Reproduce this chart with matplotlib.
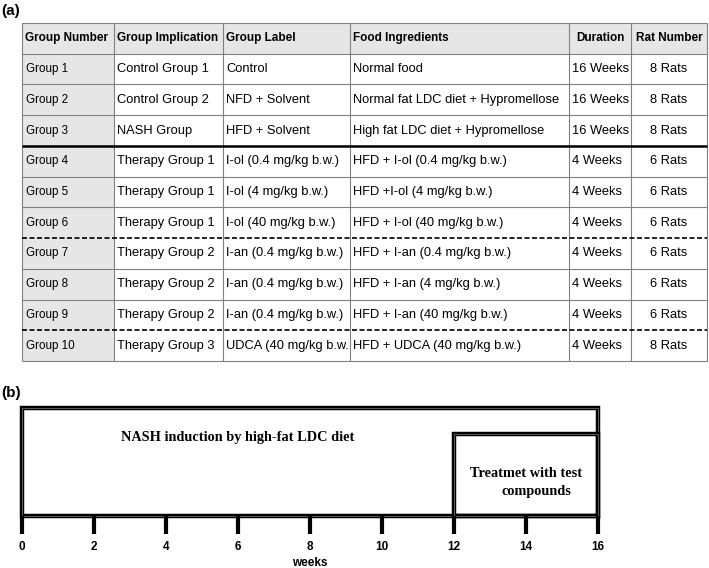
import matplotlib.pyplot as plt
from matplotlib.patches import Rectangle
import numpy as np

plt.rcParams['font.family'] = ['Liberation Sans', 'DejaVu Sans']

# ---- table data (panel a) ----
columns = ["Group Number", "Group Implication", "Group Label",
           "Food Ingredients", "Duration", "Rat Number"]
group_number = ["Group 1", "Group 2", "Group 3", "Group 4", "Group 5",
                "Group 6", "Group 7", "Group 8", "Group 9", "Group 10"]
implication = ["Control Group 1", "Control Group 2", "NASH Group",
               "Therapy Group 1", "Therapy Group 1", "Therapy Group 1",
               "Therapy Group 2", "Therapy Group 2", "Therapy Group 2",
               "Therapy Group 3"]
group_label = ["Control", "NFD + Solvent", "HFD + Solvent",
               "I-ol (0.4 mg/kg b.w.)", "I-ol (4 mg/kg b.w.)",
               "I-ol (40 mg/kg b.w.)", "I-an (0.4 mg/kg b.w.)",
               "I-an (0.4 mg/kg b.w.)", "I-an (0.4 mg/kg b.w.)",
               "UDCA (40 mg/kg b.w."]
food = ["Normal food", "Normal fat LDC diet + Hypromellose",
        "High fat LDC diet + Hypromellose", "HFD + I-ol (0.4 mg/kg b.w.)",
        "HFD +I-ol (4 mg/kg b.w.)", "HFD + I-ol (40 mg/kg b.w.)",
        "HFD + I-an (0.4 mg/kg b.w.)", "HFD + I-an (4 mg/kg b.w.)",
        "HFD + I-an (40 mg/kg b.w.)", "HFD + UDCA (40 mg/kg b.w.)"]
duration = ["16 Weeks", "16 Weeks", "16 Weeks", "4 Weeks", "4 Weeks",
            "4 Weeks", "4 Weeks", "4 Weeks", "4 Weeks", "4 Weeks"]
rats = ["8 Rats", "8 Rats", "8 Rats", "6 Rats", "6 Rats", "6 Rats",
        "6 Rats", "6 Rats", "6 Rats", "8 Rats"]
col_widths = [92, 109, 127, 219, 62, 76]
thick_after = [3]
dashed_after = [6, 9]

# ---- timeline data (panel b) ----
phase_text = ["NASH induction by high-fat LDC diet", "Treatmet with test"]
phase_start = [0, 12]
phase_end = [16, 16]
phase_top = [1.0, 0.76]
week_ticks = [0, 2, 4, 6, 8, 10, 12, 14, 16]

W, H = 709, 568
fig = plt.figure(figsize=(W / 100, H / 100), dpi=100)


def frac(x0, y0, x1, y1):
    return [x0 / W, 1 - y1 / H, (x1 - x0) / W, (y1 - y0) / H]


# ---------------- panel (a): table ----------------
ax = fig.add_axes(frac(22, 23, 707, 361))
edges = np.concatenate([[0], np.cumsum(col_widths)])
nrows = len(group_number) + 1
ax.set_xlim(0, edges[-1])
ax.set_ylim(nrows, 0)
ax.axis('off')

grey = '#e6e6e6'
ax.add_patch(Rectangle((0, 0), edges[-1], 1, fc=grey, ec='none'))
ax.add_patch(Rectangle((0, 1), edges[1], nrows - 1, fc=grey, ec='none'))

lc = '#808080'
for e in edges:
    ax.plot([e, e], [0, nrows], color=lc, lw=0.8, solid_capstyle='butt',
            clip_on=False)
for r in range(nrows + 1):
    if r - 1 in thick_after + dashed_after:
        continue
    ax.plot([0, edges[-1]], [r, r], color=lc, lw=0.8, solid_capstyle='butt',
            clip_on=False)
for r in thick_after:
    ax.plot([0, edges[-1]], [r + 1, r + 1], color='black', lw=1.8,
            solid_capstyle='butt', clip_on=False)
for r in dashed_after:
    ax.plot([0, edges[-1]], [r + 1, r + 1], color='black', lw=1.2,
            linestyle=(0, (3, 1.5)), clip_on=False)

# header
for c, name in enumerate(columns):
    if c >= 4:
        ax.text((edges[c] + edges[c + 1]) / 2, 0.5, name, ha='center',
                va='center', fontsize=8.5, fontweight='bold')
    else:
        ax.text(edges[c] + 3, 0.5, name, ha='left', va='center',
                fontsize=8.5, fontweight='bold')

# body
table_cols = [group_number, implication, group_label, food, duration, rats]
for c, vals in enumerate(table_cols):
    for i, v in enumerate(vals):
        y = i + 1.5
        fs = 8.4 if c == 0 else 9.3
        if c == 5:
            ax.text((edges[c] + edges[c + 1]) / 2, y, v, ha='center',
                    va='center', fontsize=fs)
        else:
            ax.text(edges[c] + 3.5, y, v, ha='left', va='center', fontsize=fs)

fig.text(1 / W, 1 - 11 / H, '(a)', fontsize=11, fontweight='bold', va='center')
fig.text(1 / W, 1 - 393 / H, '(b)', fontsize=11, fontweight='bold', va='center')

# ---------------- panel (b): timeline ----------------
tx = fig.add_axes(frac(22, 408, 598, 516))
tx.set_xlim(0, 16)
tx.set_ylim(0, 1)
for s in tx.spines.values():
    s.set_visible(False)
for s, e, t in zip(phase_start, phase_end, phase_top):
    tx.add_patch(Rectangle((s, 0), e - s, t, fill=False, ec='black', lw=3.2,
                           clip_on=False, joinstyle='miter'))
    tx.add_patch(Rectangle((s, 0), e - s, t, fill=False, ec='#a0a0a0', lw=0.4,
                           clip_on=False))

tx.set_xticks(week_ticks)
tx.set_xticklabels([str(w) for w in week_ticks], fontweight='bold')
tx.set_yticks([])
tx.tick_params(axis='x', length=13, width=3, direction='out', pad=5,
               labelsize=8.5)
tx.set_xlabel('weeks', fontsize=8.5, fontweight='bold', labelpad=3)

serif = ['Liberation Serif', 'DejaVu Serif']
tx.text(6.0, 0.73, phase_text[0], ha='center', va='center', fontsize=10.3,
        fontweight='bold', family=serif)
tx.text(14.0, 0.39, phase_text[1], ha='center', va='center', fontsize=10.3,
        fontweight='bold', family=serif)
tx.text(14.3, 0.23, 'compounds', ha='center', va='center', fontsize=10.3,
        fontweight='bold', family=serif)

fig.savefig('out.png', dpi=100)
